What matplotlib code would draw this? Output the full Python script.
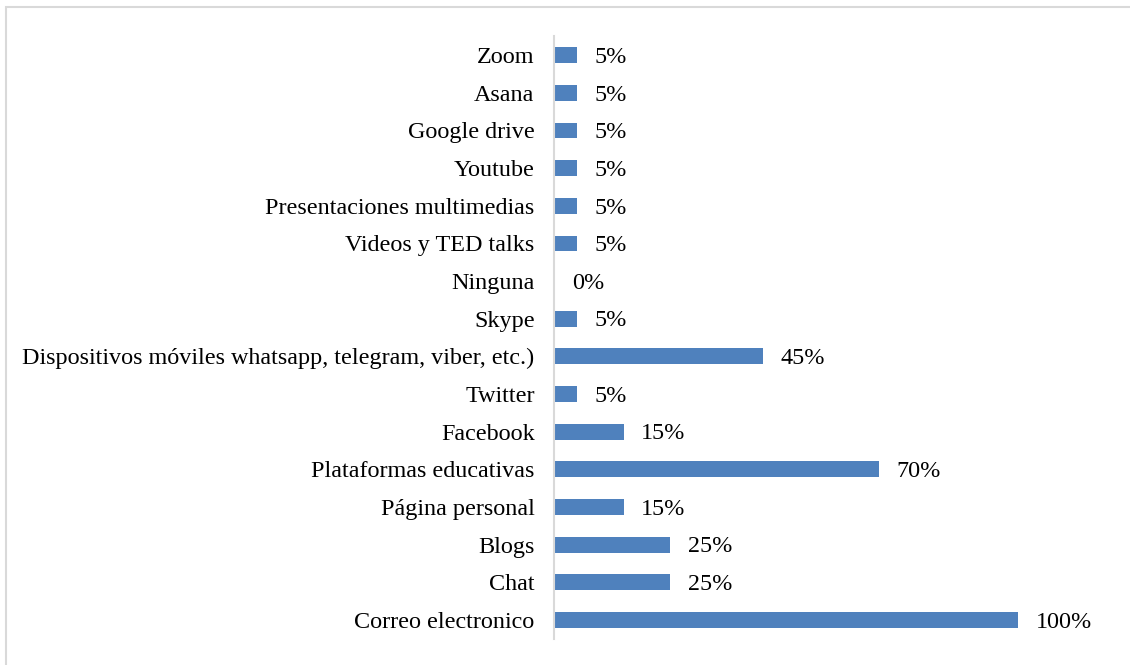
import matplotlib.pyplot as plt
from matplotlib.patches import Rectangle

categories = [
    "Correo electronico", "Chat", "Blogs", "Página personal",
    "Plataformas educativas", "Facebook", "Twitter",
    "Dispositivos móviles whatsapp, telegram, viber, etc.)",
    "Skype", "Ninguna", "Videos y TED talks",
    "Presentaciones multimedias", "Youtube", "Google drive", "Asana", "Zoom",
]
values = [100, 25, 25, 15, 70, 15, 5, 45, 5, 0, 5, 5, 5, 5, 5, 5]

plt.rcParams["font.family"] = ["Liberation Serif", "DejaVu Serif"]

fig = plt.figure(figsize=(11.3, 6.65), dpi=100)
ax = fig.add_axes([0.4903, 0.0394, 0.4927, 0.906])

pos = list(range(len(categories)))
ax.barh(pos, values, height=0.42, color="#4f81bd")
for p, v in zip(pos, values):
    ax.text(v + 3.8, p - 0.06, f"{v}%", va="center", ha="left", fontsize=17.4)

ax.set_yticks(pos)
ax.set_yticklabels(categories, fontsize=17.4)
ax.set_ylim(-0.5, len(categories) - 0.5)
ax.set_xlim(0, 120)
ax.set_xticks([])
ax.tick_params(axis="y", length=0, pad=14)
for s in ["top", "right", "bottom"]:
    ax.spines[s].set_visible(False)
ax.spines["left"].set_color("#d9d9d9")
ax.spines["left"].set_linewidth(1.5)

fig.patches.append(Rectangle((6 / 1130, -0.1), 1.2, 1 - 7 / 665 + 0.1,
                             transform=fig.transFigure, fill=False,
                             edgecolor="#d9d9d9", linewidth=1.5))

fig.savefig("out.png", dpi=100)
